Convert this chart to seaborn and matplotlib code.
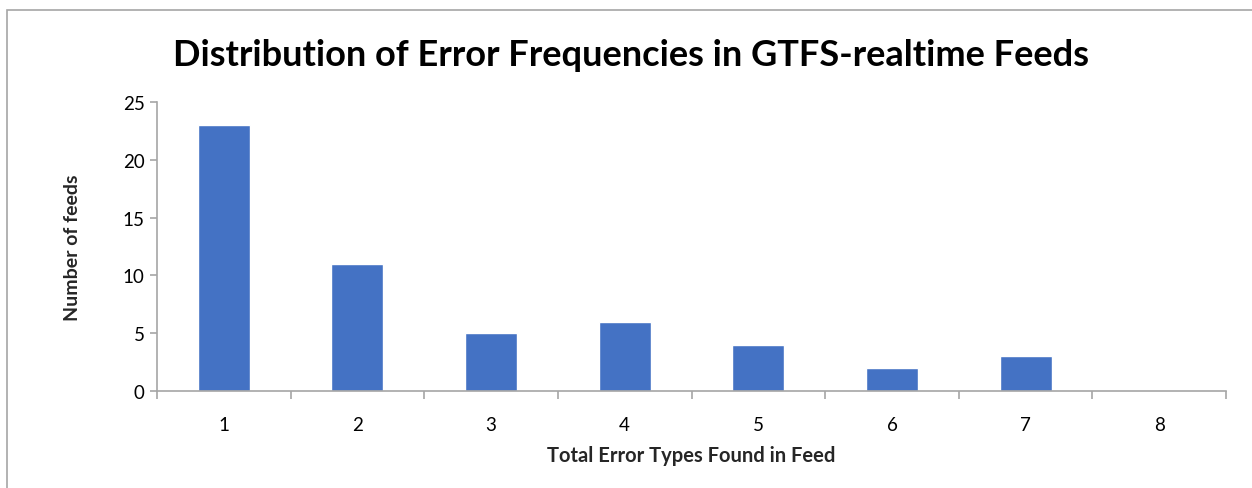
import matplotlib
matplotlib.use("Agg")
import matplotlib.pyplot as plt
import seaborn as sns
import pandas as pd
from matplotlib.patches import Rectangle
from matplotlib.ticker import FixedLocator

categories = ["1", "2", "3", "4", "5", "6", "7", "8"]
feed_counts = [23, 11, 5, 6, 4, 2, 3, 0]
y_ticks = [0, 5, 10, 15, 20, 25]

sns.set_theme(style="white")
plt.rcParams['font.family'] = ['Lato', 'DejaVu Sans']

df = pd.DataFrame({"errors": categories, "feeds": feed_counts})

W, H = 1252, 489
fig = plt.figure(figsize=(W / 100, H / 100), dpi=100)
fig.patch.set_facecolor("white")

# chart-area border (top and left visible)
fig.patches.append(Rectangle((7 / W, -0.1), 1.2, 1 - 11 / H + 0.1, transform=fig.transFigure,
                             fill=False, edgecolor="#A6A6A6", linewidth=1.2))

ax = fig.add_axes([157 / W, 1 - 392 / H, (1226 - 157) / W, (392 - 103) / H])
sns.barplot(data=df, x="errors", y="feeds", color="#4472C4", saturation=1,
            width=0.39, ax=ax, order=categories)

ax.set_xlim(-0.5, len(categories) - 0.5)
ax.set_ylim(0, 25)
ax.set_yticks(y_ticks)
ax.set_facecolor("white")

axis_col = "#A6A6A6"
for s in ["top", "right"]:
    ax.spines[s].set_visible(False)
for s in ["left", "bottom"]:
    ax.spines[s].set_color(axis_col)
    ax.spines[s].set_linewidth(1.2)

ax.tick_params(axis="y", which="major", direction="out", length=5, color=axis_col,
               width=1.2, labelsize=13.5, labelcolor="black", pad=4, left=True)
ax.tick_params(axis="x", which="major", length=0, labelsize=13.5, labelcolor="black", pad=18)
ax.xaxis.set_minor_locator(FixedLocator([i - 0.5 for i in range(len(categories) + 1)]))
ax.tick_params(axis="x", which="minor", direction="out", length=6, color=axis_col,
               width=1.2, bottom=True)

ax.set_xlabel("Total Error Types Found in Feed", fontsize=14.5, fontweight="bold", labelpad=9)
ax.set_ylabel("Number of feeds", fontsize=14, fontweight="bold", labelpad=30)

fig.text(631 / W, 1 - 55 / H, "Distribution of Error Frequencies in GTFS-realtime Feeds",
         ha="center", va="center", fontsize=26, fontweight="bold", color="black")

fig.savefig("out.png", dpi=100, facecolor="white")
